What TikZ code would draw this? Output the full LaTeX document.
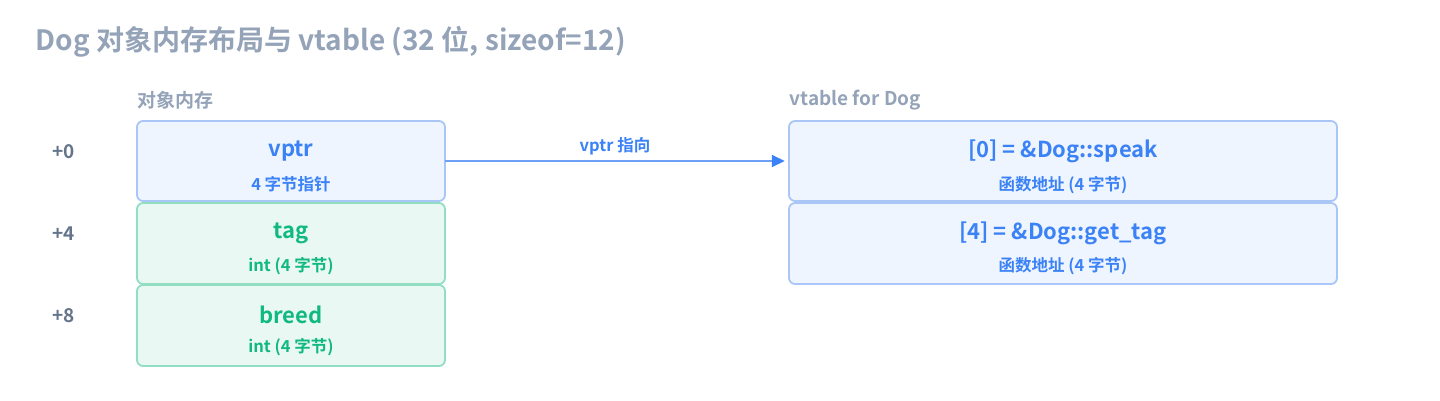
\documentclass[tikz,border=0pt]{standalone}
\usepackage{fontspec}
\setmainfont{Noto Sans CJK SC}[BoldFont={Noto Sans CJK SC Bold}]
\usetikzlibrary{arrows.meta}
\definecolor{ttl}{HTML}{94A3B8}
\definecolor{off}{HTML}{64748B}
\definecolor{bl}{HTML}{3B82F6}
\definecolor{blfill}{HTML}{EFF5FE}
\definecolor{bldraw}{HTML}{A9C6F6}
\definecolor{gr}{HTML}{10B981}
\definecolor{grfill}{HTML}{EAF8F3}
\definecolor{grdraw}{HTML}{92DEC3}
\definecolor{arr}{HTML}{6EA0F5}
\begin{document}
\begin{tikzpicture}[x=1pt,y=-1pt,
  cell/.style={rounded corners=6pt,line width=1.8pt,minimum height=80pt,inner sep=0pt},
  bcell/.style={cell,draw=bldraw,fill=blfill},
  gcell/.style={cell,draw=grdraw,fill=grfill},
  offs/.style={font=\fontsize{19}{21}\selectfont\bfseries,text=off,anchor=west},
  main/.style={font=\fontsize{22}{25}\selectfont\bfseries},
  sub/.style={font=\fontsize{16.5}{18}\selectfont\bfseries},
  hdr/.style={font=\fontsize{19}{21}\selectfont\bfseries,text=ttl,anchor=west}]
\useasboundingbox (0,0) rectangle (1440,401);
\node[anchor=west,font=\fontsize{28}{31}\selectfont\bfseries,text=ttl] (title) at (32,42) {Dog 对象内存布局与 vtable (32 位, sizeof=12)};
\node[hdr] (memh) at (134,100) {对象内存};
\node[hdr] (vth) at (786,100) {vtable for Dog};
% left cells
\draw[bcell] (137,121) rectangle (445,201);
\node[inner sep=0pt,minimum width=308pt,minimum height=80pt] (vptr) at (291,161) {};
\draw[gcell] (137,203) rectangle (445,284);
\node[inner sep=0pt,minimum width=308pt,minimum height=81pt] (tag) at (291,243.5) {};
\draw[gcell] (137,285) rectangle (445,366);
\node[inner sep=0pt,minimum width=308pt,minimum height=81pt] (breed) at (291,325.5) {};
\node[main,text=bl] (vptrt) at (291,151) {vptr};
\node[sub,text=bl] (vptrs) at (291,184) {4 字节指针};
\node[main,text=gr] (tagt) at (291,233) {tag};
\node[sub,text=gr] (tags) at (291,266) {int (4 字节)};
\node[main,text=gr] (breedt) at (291,315) {breed};
\node[sub,text=gr] (breeds) at (291,347) {int (4 字节)};
\node[offs] (o0) at (49,152) {+0};
\node[offs] (o4) at (49,234) {+4};
\node[offs] (o8) at (49,316) {+8};
% right cells
\draw[bcell] (789,121) rectangle (1337,201);
\node[inner sep=0pt,minimum width=548pt,minimum height=80pt] (vt0) at (1063,161) {};
\draw[bcell] (789,203) rectangle (1337,284);
\node[inner sep=0pt,minimum width=548pt,minimum height=81pt] (vt1) at (1063,243.5) {};
\node[main,text=bl] (vt0t) at (1063,151) {[0] = \&Dog::speak};
\node[sub,text=bl] (vt0s) at (1063,185) {函数地址 (4 字节)};
\node[main,text=bl] (vt1t) at (1063,233) {[4] = \&Dog::get\_tag};
\node[sub,text=bl] (vt1s) at (1063,266) {函数地址 (4 字节)};
% arrow
\draw[arr,line width=1.8pt,-{Triangle[length=13pt,width=12pt,color=bl]}] (vptr.east) -- ([xshift=-4pt]vt0.west) node[midway,above=2pt,sub,text=bl] (al) {vptr 指向};
\end{tikzpicture}
\end{document}
